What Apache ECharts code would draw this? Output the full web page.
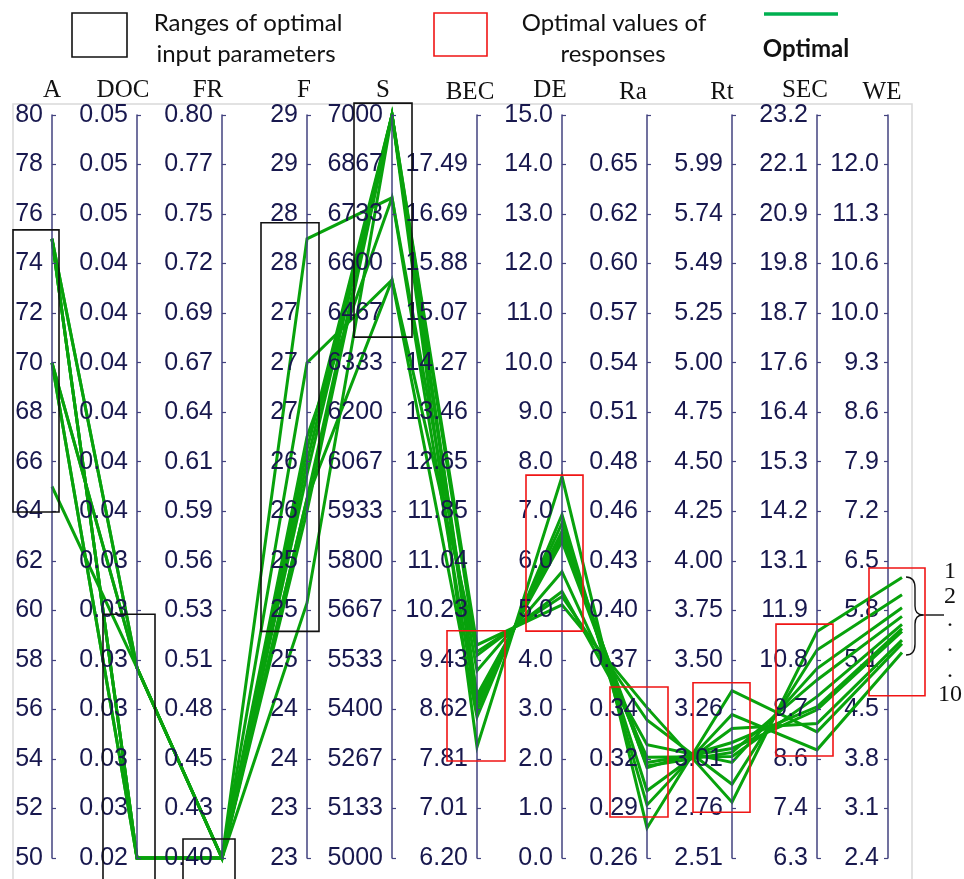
<!DOCTYPE html>
<html>
<head>
<meta charset="utf-8">
<script src="https://cdn.jsdelivr.net/npm/echarts@6/dist/echarts.min.js"></script>
<style>
  html, body { margin: 0; padding: 0; background: #fff; }
  #chart { width: 964px; height: 879px; }
</style>
</head>
<body>
<div id="chart"></div>
<script>
// ---- Axes: names, scale ranges and tick labels (bottom to top) ----
const axisNames = ['A', 'DOC', 'FR', 'F', 'S', 'BEC', 'DE', 'Ra', 'Rt', 'SEC', 'WE'];
const axisMin = [50, 0.025, 0.40, 23, 5000, 6.20, 0, 0.26, 2.51, 6.3, 2.4];
const axisMax = [80, 0.050, 0.80, 29, 7000, 18.30, 15, 0.68, 6.24, 23.2, 12.7];

const ticksA = ['50','52','54','56','58','60','62','64','66','68','70','72','74','76','78','80'];
const ticksDOC = ['0.02','0.03','0.03','0.03','0.03','0.03','0.03','0.04','0.04','0.04','0.04','0.04','0.04','0.05','0.05','0.05'];
const ticksFR = ['0.40','0.43','0.45','0.48','0.51','0.53','0.56','0.59','0.61','0.64','0.67','0.69','0.72','0.75','0.77','0.80'];
const ticksF = ['23','23','24','24','25','25','25','26','26','27','27','27','28','28','29','29'];
const ticksS = ['5000','5133','5267','5400','5533','5667','5800','5933','6067','6200','6333','6467','6600','6733','6867','7000'];
const ticksBEC = ['6.20','7.01','7.81','8.62','9.43','10.23','11.04','11.85','12.65','13.46','14.27','15.07','15.88','16.69','17.49',''];
const ticksDE = ['0.0','1.0','2.0','3.0','4.0','5.0','6.0','7.0','8.0','9.0','10.0','11.0','12.0','13.0','14.0','15.0'];
const ticksRa = ['0.26','0.29','0.32','0.34','0.37','0.40','0.43','0.46','0.48','0.51','0.54','0.57','0.60','0.62','0.65',''];
const ticksRt = ['2.51','2.76','3.01','3.26','3.50','3.75','4.00','4.25','4.50','4.75','5.00','5.25','5.49','5.74','5.99',''];
const ticksSEC = ['6.3','7.4','8.6','9.7','10.8','11.9','13.1','14.2','15.3','16.4','17.6','18.7','19.8','20.9','22.1','23.2'];
const ticksWE = ['2.4','3.1','3.8','4.5','5.1','5.8','6.5','7.2','7.9','8.6','9.3','10.0','10.6','11.3','12.0',''];
const tickLabels = [ticksA, ticksDOC, ticksFR, ticksF, ticksS, ticksBEC, ticksDE, ticksRa, ticksRt, ticksSEC, ticksWE];

// ---- Ten optimal solutions, one value per solution on each axis ----
const valA   = [75, 70, 75, 70, 75, 65, 70, 75, 70, 75];
const valDOC = [0.025, 0.0314, 0.0314, 0.025, 0.025, 0.0314, 0.025, 0.0314, 0.0314, 0.025];
const valFR  = [0.40, 0.40, 0.40, 0.40, 0.40, 0.40, 0.40, 0.40, 0.40, 0.40];
const valF   = [26.3, 27.0, 28.0, 25.9, 26.1, 25.06, 26.4, 25.8, 25.9, 26.2];
const valS   = [7000, 6556, 6777, 7000, 7000, 7000, 6777, 7000, 6556, 7000];
const valBEC = [8.01, 8.50, 8.61, 8.71, 8.79, 8.85, 9.25, 9.50, 9.56, 9.67];
const valDE  = [7.70, 6.93, 6.76, 6.60, 6.49, 6.39, 5.78, 5.38, 5.28, 5.11];
const valRa  = [0.277, 0.290, 0.298, 0.311, 0.314, 0.312, 0.317, 0.324, 0.338, 0.345];
const valRt  = [3.35, 3.23, 3.16, 3.09, 3.06, 3.04, 3.02, 2.99, 2.88, 2.79];
const valSEC = [9.17, 8.76, 9.36, 9.74, 9.67, 10.35, 9.97, 10.61, 11.03, 11.45];
const valWE  = [5.37, 5.25, 5.42, 5.58, 5.54, 5.75, 5.64, 5.87, 6.05, 6.29];

// ---- Highlighted ranges (value spans on an axis) ----
const inputRanges = [
  { axis: 0, lo: 63.97, hi: 75.36 },
  { axis: 1, lo: 0.0242, hi: 0.0332 },
  { axis: 2, lo: 0.388, hi: 0.4102 },
  { axis: 3, lo: 24.83, hi: 28.13 },
  { axis: 4, lo: 6402, hi: 7032 }
];
const responseRanges = [
  { axis: 5, lo: 7.78, hi: 9.90 },
  { axis: 6, lo: 4.58, hi: 7.73 },
  { axis: 7, lo: 0.2832, hi: 0.3567 },
  { axis: 8, lo: 2.74, hi: 3.39 },
  { axis: 9, lo: 8.62, hi: 11.62 },
  { axis: 10, lo: 4.65, hi: 6.42 }
];

const rows = valA.map((_, k) => [valA[k], valDOC[k], valFR[k], valF[k], valS[k], valBEC[k],
  valDE[k], valRa[k], valRt[k], valSEC[k], valWE[k]]);

// ---- Styling ----
const labelFont = "'Liberation Sans', Arial, sans-serif";
const nameFont = "'Liberation Serif', 'Times New Roman', serif";
const legendFont = "Lato, 'Noto Sans', sans-serif";
const axisColor = '#42427f';
const labelColor = '#18184e';
const lineGreen = '#08a20c';
const nameShift = [0, 14, 14, 3, 9, 7, 12, 14, 10, 12, 6];

// layout of the parallel coordinate box
const PL = 52, PR = 62, PT = 115, PB = 21;

function tickValues(i) {
  const out = [];
  for (let k = 0; k <= 15; k++) {
    out.push(k === 15 ? axisMax[i] : axisMin[i] + k * (axisMax[i] - axisMin[i]) / 15);
  }
  return out;
}
function labelFor(i, v) {
  const k = Math.round((v - axisMin[i]) / ((axisMax[i] - axisMin[i]) / 15));
  const s = tickLabels[i][k];
  return s === undefined ? '' : s;
}

const nameStyle = (i) => ({
  fontFamily: nameFont, fontSize: 25, color: '#111',
  padding: [0, 2 * nameShift[i], 0, 0]
});
// parallel axes place labels on the right, so they are pulled across to the left
const labelStyle = (i, margin) => ({
  show: true, customValues: tickValues(i), formatter: (v) => labelFor(i, v),
  margin: margin, align: 'right', verticalAlign: 'middle',
  fontSize: 25, fontFamily: labelFont, color: labelColor
});

const parallelAxis = axisNames.map((nm, i) => {
  const hidden = i === 10; // WE data positions; its scale is drawn separately
  return {
    dim: i, type: 'value', min: axisMin[i], max: axisMax[i],
    name: hidden ? '' : nm, nameLocation: 'end', nameGap: i === 3 ? 3 : 10,
    nameTextStyle: nameStyle(i),
    axisLine: { show: !hidden, lineStyle: { color: axisColor, width: 1.5 } },
    axisTick: { show: !hidden, inside: true, length: 4, customValues: tickValues(i),
      lineStyle: { color: axisColor, width: 1.2 } },
    axisLabel: hidden
      ? { show: false, customValues: [], formatter: () => '', color: 'rgba(0,0,0,0)' }
      : labelStyle(i, -9),
    splitLine: { show: false }
  };
});

const chart = echarts.init(document.getElementById('chart'), null, { renderer: 'canvas' });

chart.setOption({
  animation: false,
  backgroundColor: '#fff',
  parallel: { left: PL, right: PR, top: PT, bottom: PB, layout: 'horizontal' },
  parallelAxis: parallelAxis,
  grid: { left: 888, top: PT, width: 14, height: 879 - PT - PB, show: false },
  xAxis: { type: 'value', show: false, min: 0, max: 1 },
  yAxis: {
    type: 'value', position: 'left', min: axisMin[10], max: axisMax[10],
    name: 'WE', nameLocation: 'end', nameGap: 10, nameTextStyle: nameStyle(10),
    axisLine: { show: true, lineStyle: { color: axisColor, width: 1.5 } },
    axisTick: { show: true, length: 4, customValues: tickValues(10), lineStyle: { color: axisColor, width: 1.2 } },
    axisLabel: labelStyle(10, 9),
    splitLine: { show: false }
  },
  series: [{
    type: 'parallel', silent: true, smooth: false,
    inactiveOpacity: 1, activeOpacity: 1,
    lineStyle: { color: lineGreen, width: 3, opacity: 1 },
    data: rows
  }]
});

// pixel position of a value on a parallel axis
function axisPoint(i, v) {
  try {
    const cs = chart.getModel().getComponent('parallel', 0).coordinateSystem;
    const p = cs.dataToPoint(v, 'dim' + i);
    if (p && isFinite(p[0]) && isFinite(p[1])) return p;
  } catch (e) { /* fall through */ }
  const w = 964 - PL - PR, h = 879 - PT - PB;
  return [PL + i * w / 10, PT + h * (axisMax[i] - v) / (axisMax[i] - axisMin[i])];
}

// horizontal extent of each range box around its axis
const boxSpan = {0: [-39, 7], 1: [-34, 18], 2: [-39, 13], 3: [-46, 12], 4: [-38, 20],
  5: [-30, 28], 6: [-36, 21], 7: [-37, 21], 8: [-39, 18], 9: [-41, 16], 10: [-33, 23]};

function rangeBox(r, color) {
  const top = axisPoint(r.axis, r.hi), bot = axisPoint(r.axis, r.lo);
  const s = boxSpan[r.axis];
  return {
    type: 'rect', z: 100, silent: true,
    shape: { x: top[0] + s[0], y: top[1], width: s[1] - s[0], height: bot[1] - top[1] },
    style: { fill: 'none', stroke: color, lineWidth: 1.6 }
  };
}

const txt = (text, x, y, font, extra) => ({
  type: 'text', z: 100, silent: true,
  style: Object.assign({ text: text, x: x, y: y, font: font, fill: '#111', align: 'center', verticalAlign: 'middle' }, extra || {})
});
const seg = (x1, y1, x2, y2) => ({ type: 'line', z: 100, silent: true,
  shape: { x1, y1, x2, y2 }, style: { stroke: '#111', lineWidth: 1.4 } });
const curve = (x1, y1, cx, cy, x2, y2) => ({ type: 'bezierCurve', z: 100, silent: true,
  shape: { x1, y1, cpx1: cx, cpy1: cy, x2, y2 }, style: { stroke: '#111', lineWidth: 1.4, fill: 'none' } });

const graphics = [
  // plot frame
  { type: 'rect', z: -1, silent: true, shape: { x: 13, y: 104, width: 899, height: 800 },
    style: { fill: 'none', stroke: '#d9d9d9', lineWidth: 1.5 } },
  // legend
  { type: 'rect', z: 100, silent: true, shape: { x: 72, y: 13, width: 55, height: 44 },
    style: { fill: 'none', stroke: '#111', lineWidth: 1.6 } },
  txt('Ranges of optimal', 248, 23, '24px ' + legendFont),
  txt('input parameters', 246, 54, '24px ' + legendFont),
  { type: 'rect', z: 100, silent: true, shape: { x: 434, y: 13, width: 53, height: 43 },
    style: { fill: 'none', stroke: '#f01515', lineWidth: 1.6 } },
  txt('Optimal values of', 614, 23, '24px ' + legendFont),
  txt('responses', 613, 54, '24px ' + legendFont),
  { type: 'line', z: 100, silent: true, shape: { x1: 764, y1: 14, x2: 838, y2: 14 },
    style: { stroke: '#00b050', lineWidth: 3.5 } },
  txt('Optimal', 806, 49, 'bold 24px ' + legendFont),
  // brace grouping the solution numbers
  curve(906, 577, 915, 577, 915, 588),
  seg(915, 588, 915, 606),
  curve(915, 606, 915, 615, 923, 615),
  curve(923, 615, 915, 615, 915, 624),
  seg(915, 624, 915, 644),
  curve(915, 644, 915, 655, 906, 655),
  seg(923, 615, 944, 615),
  txt('1', 950, 572, '24px ' + nameFont),
  txt('2', 950, 597, '24px ' + nameFont),
  txt('.', 950, 620, '24px ' + nameFont),
  txt('.', 950, 645, '24px ' + nameFont),
  txt('.', 950, 671, '24px ' + nameFont),
  txt('10', 950, 695, '24px ' + nameFont)
];
inputRanges.forEach(r => graphics.push(rangeBox(r, '#111')));
responseRanges.forEach(r => graphics.push(rangeBox(r, '#f01515')));

chart.setOption({ graphic: { elements: graphics } });
</script>
</body>
</html>
